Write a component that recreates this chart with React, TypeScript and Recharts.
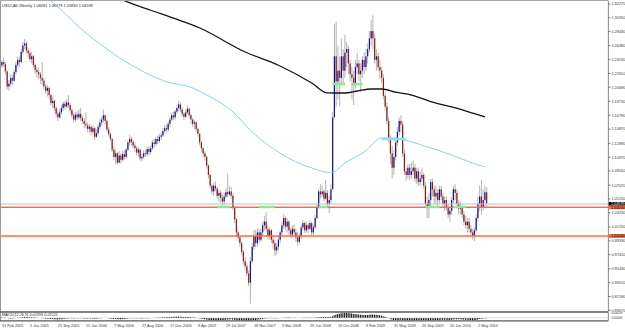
import React from "react";
import { ComposedChart, Bar, Line, XAxis, YAxis, ReferenceLine } from "recharts";

// ---------- data ----------
const firstOpen = 1.237;
const closes = [
  1.242, 1.239, 1.229, 1.208, 1.212, 1.22, 1.216, 1.228, 1.238, 1.245,
  1.242, 1.256, 1.265, 1.268, 1.258, 1.254, 1.246, 1.25, 1.238, 1.231,
  1.228, 1.225, 1.22, 1.216, 1.208, 1.202, 1.206, 1.196, 1.185, 1.188,
  1.178, 1.17, 1.165, 1.172, 1.178, 1.184, 1.18, 1.186, 1.182, 1.175,
  1.168, 1.162, 1.169, 1.165, 1.17, 1.164, 1.16, 1.156, 1.154, 1.149,
  1.152, 1.145, 1.15, 1.138, 1.143, 1.152, 1.158, 1.162, 1.168, 1.16,
  1.148, 1.142, 1.135, 1.12, 1.11, 1.115, 1.102, 1.112, 1.106, 1.114,
  1.11, 1.12, 1.13, 1.135, 1.131, 1.126, 1.122, 1.116, 1.12, 1.108,
  1.11, 1.115, 1.114, 1.121, 1.117, 1.122, 1.13, 1.128, 1.135, 1.132,
  1.138, 1.14, 1.146, 1.15, 1.148, 1.156, 1.162, 1.168, 1.165, 1.173,
  1.178, 1.183, 1.176, 1.17, 1.166, 1.172, 1.177, 1.168, 1.162, 1.156,
  1.158, 1.149, 1.142, 1.13, 1.122, 1.115, 1.11, 1.098, 1.085, 1.07,
  1.062, 1.07, 1.066, 1.056, 1.06, 1.053, 1.048, 1.055, 1.061, 1.058,
  1.062, 1.056, 1.04, 1.023, 1.005, 0.998, 0.99, 0.978, 0.965, 0.958,
  0.948, 0.935, 0.965, 0.985, 1.0, 0.99, 1.005, 0.995, 1.005, 1.015,
  1.02, 1.01, 1.0, 1.008, 0.995, 0.99, 0.98, 0.985, 0.995, 1.005,
  1.015, 1.025, 1.013, 1.02, 1.008, 1.002, 1.01, 1.005, 0.998, 0.992,
  1.0, 1.012, 1.018, 1.008, 1.015, 1.01, 1.018, 1.005, 1.012, 1.025,
  1.04, 1.062, 1.058, 1.062, 1.052, 1.06, 1.045, 1.05, 1.065, 1.165,
  1.25, 1.215, 1.23, 1.22, 1.25, 1.23, 1.255, 1.26, 1.24, 1.225,
  1.22, 1.21, 1.235, 1.24, 1.225, 1.23, 1.245, 1.235, 1.25, 1.26,
  1.275, 1.285, 1.275, 1.245, 1.25, 1.235, 1.23, 1.22, 1.195, 1.18,
  1.16, 1.135, 1.115, 1.095, 1.11, 1.13, 1.145, 1.16, 1.155, 1.115,
  1.09, 1.085, 1.095, 1.085, 1.09, 1.095, 1.08, 1.09, 1.075, 1.08,
  1.085, 1.07, 1.045, 1.04, 1.05, 1.075, 1.065, 1.055, 1.06, 1.05,
  1.065, 1.055, 1.045, 1.05, 1.04, 1.03, 1.035, 1.05, 1.065, 1.06,
  1.045, 1.038, 1.04, 1.03, 1.02, 1.015, 1.02, 1.01, 1.005, 1.0,
  1.008, 1.025, 1.045, 1.055, 1.04, 1.05, 1.06081, 1.04599,
];
const highs = [
  1.245, 1.248, 1.242, 1.23, 1.217, 1.225, 1.224, 1.231, 1.242, 1.249,
  1.25, 1.26, 1.27, 1.274, 1.271, 1.262, 1.258, 1.256, 1.252, 1.24,
  1.235, 1.234, 1.228, 1.242, 1.22, 1.212, 1.21, 1.208, 1.198, 1.194,
  1.19, 1.18, 1.174, 1.176, 1.182, 1.187, 1.188, 1.191, 1.196, 1.185,
  1.178, 1.172, 1.172, 1.174, 1.176, 1.178, 1.168, 1.164, 1.172, 1.158,
  1.156, 1.154, 1.154, 1.152, 1.148, 1.155, 1.163, 1.166, 1.176, 1.169,
  1.162, 1.151, 1.144, 1.136, 1.125, 1.12, 1.117, 1.118, 1.115, 1.118,
  1.12, 1.123, 1.133, 1.141, 1.138, 1.134, 1.13, 1.125, 1.124, 1.122,
  1.114, 1.119, 1.12, 1.124, 1.125, 1.126, 1.134, 1.135, 1.138, 1.14,
  1.142, 1.144, 1.15, 1.154, 1.155, 1.159, 1.166, 1.171, 1.173, 1.176,
  1.182, 1.188, 1.186, 1.179, 1.172, 1.176, 1.182, 1.179, 1.17, 1.164,
  1.162, 1.16, 1.151, 1.144, 1.132, 1.124, 1.118, 1.112, 1.1, 1.087,
  1.072, 1.074, 1.076, 1.068, 1.064, 1.064, 1.058, 1.06, 1.066, 1.087,
  1.07, 1.068, 1.059, 1.042, 1.025, 1.008, 1.001, 0.992, 0.98, 0.97,
  0.962, 0.952, 0.97, 0.99, 1.009, 1.008, 1.01, 1.01, 1.01, 1.02,
  1.028, 1.033, 1.015, 1.012, 1.01, 1.0, 0.995, 0.99, 1.0, 1.008,
  1.02, 1.03, 1.028, 1.025, 1.022, 1.012, 1.015, 1.016, 1.01, 1.005,
  1.004, 1.016, 1.022, 1.02, 1.02, 1.018, 1.022, 1.02, 1.016, 1.029,
  1.045, 1.065, 1.072, 1.07, 1.065, 1.078, 1.064, 1.056, 1.072, 1.172,
  1.295, 1.298, 1.265, 1.25, 1.275, 1.26, 1.28, 1.27, 1.265, 1.245,
  1.235, 1.23, 1.245, 1.255, 1.245, 1.24, 1.25, 1.255, 1.26, 1.268,
  1.285, 1.3, 1.307, 1.28, 1.26, 1.255, 1.245, 1.235, 1.225, 1.2,
  1.185, 1.165, 1.14, 1.125, 1.12, 1.135, 1.152, 1.165, 1.168, 1.16,
  1.12, 1.095, 1.1, 1.1, 1.102, 1.105, 1.1, 1.095, 1.095, 1.09,
  1.095, 1.088, 1.075, 1.055, 1.06, 1.08, 1.08, 1.07, 1.07, 1.065,
  1.07, 1.07, 1.06, 1.055, 1.055, 1.045, 1.04, 1.055, 1.07, 1.072,
  1.065, 1.05, 1.048, 1.042, 1.035, 1.028, 1.025, 1.025, 1.015, 1.01,
  1.012, 1.03, 1.055, 1.07, 1.078, 1.065, 1.07, 1.06779,
];
const lows = [
  1.234, 1.235, 1.225, 1.204, 1.202, 1.208, 1.21, 1.214, 1.225, 1.234,
  1.235, 1.24, 1.253, 1.26, 1.254, 1.248, 1.242, 1.24, 1.234, 1.226,
  1.22, 1.218, 1.212, 1.21, 1.204, 1.198, 1.194, 1.191, 1.182, 1.178,
  1.174, 1.166, 1.16, 1.163, 1.169, 1.174, 1.176, 1.178, 1.178, 1.171,
  1.164, 1.158, 1.159, 1.161, 1.162, 1.16, 1.156, 1.15, 1.15, 1.144,
  1.144, 1.14, 1.142, 1.134, 1.136, 1.14, 1.148, 1.154, 1.158, 1.155,
  1.145, 1.138, 1.132, 1.117, 1.106, 1.1, 1.099, 1.101, 1.101, 1.104,
  1.106, 1.107, 1.118, 1.126, 1.125, 1.122, 1.117, 1.112, 1.11, 1.105,
  1.104, 1.107, 1.11, 1.111, 1.112, 1.114, 1.12, 1.123, 1.125, 1.128,
  1.13, 1.134, 1.138, 1.143, 1.144, 1.145, 1.152, 1.16, 1.161, 1.162,
  1.17, 1.174, 1.172, 1.166, 1.161, 1.164, 1.17, 1.164, 1.156, 1.152,
  1.148, 1.145, 1.138, 1.126, 1.117, 1.11, 1.105, 1.094, 1.08, 1.066,
  1.058, 1.056, 1.062, 1.052, 1.048, 1.046, 1.042, 1.043, 1.052, 1.054,
  1.056, 1.052, 1.036, 1.018, 1.0, 0.993, 0.985, 0.973, 0.96, 0.952,
  0.944, 0.93, 0.906, 0.962, 0.981, 0.985, 0.985, 0.99, 0.992, 1.0,
  1.008, 1.006, 0.995, 0.995, 0.99, 0.982, 0.972, 0.974, 0.98, 0.99,
  1.0, 1.01, 1.008, 1.005, 1.002, 0.998, 0.998, 1.0, 0.992, 0.986,
  0.989, 0.996, 1.008, 1.004, 1.005, 1.004, 1.008, 1.001, 1.0, 1.01,
  1.023, 1.038, 1.052, 1.054, 1.048, 1.05, 1.04, 1.032, 1.045, 1.065,
  1.165, 1.18, 1.19, 1.18, 1.21, 1.21, 1.22, 1.235, 1.225, 1.215,
  1.19, 1.182, 1.205, 1.225, 1.215, 1.2, 1.22, 1.225, 1.23, 1.24,
  1.255, 1.265, 1.26, 1.24, 1.23, 1.23, 1.218, 1.213, 1.19, 1.175,
  1.155, 1.13, 1.1, 1.08, 1.085, 1.105, 1.125, 1.14, 1.145, 1.11,
  1.085, 1.077, 1.08, 1.078, 1.08, 1.085, 1.075, 1.072, 1.07, 1.07,
  1.075, 1.065, 1.04, 1.025, 1.025, 1.04, 1.055, 1.045, 1.045, 1.042,
  1.045, 1.05, 1.04, 1.035, 1.035, 1.025, 1.02, 1.03, 1.045, 1.05,
  1.04, 1.03, 1.03, 1.025, 1.015, 1.01, 1.005, 1.005, 1.0, 0.995,
  0.993, 1.005, 1.02, 1.035, 1.03, 1.035, 1.04, 1.0383,
];
const macdMain = [
  0.004, 0.003, 0.001, -0.003, -0.006, -0.007, -0.007, -0.005, -0.002, 0.001,
  0.003, 0.006, 0.009, 0.012, 0.012, 0.011, 0.009, 0.008, 0.006, 0.004,
  0.002, 0.0, -0.002, -0.004, -0.006, -0.009, -0.01, -0.012, -0.014, -0.015,
  -0.017, -0.019, -0.02, -0.019, -0.017, -0.014, -0.012, -0.009, -0.007, -0.006,
  -0.006, -0.007, -0.006, -0.006, -0.005, -0.005, -0.006, -0.007, -0.007, -0.008,
  -0.008, -0.009, -0.009, -0.01, -0.01, -0.008, -0.006, -0.004, -0.002, -0.002,
  -0.003, -0.005, -0.007, -0.01, -0.013, -0.015, -0.017, -0.017, -0.017, -0.016,
  -0.015, -0.012, -0.009, -0.006, -0.005, -0.004, -0.004, -0.005, -0.005, -0.006,
  -0.007, -0.006, -0.006, -0.005, -0.004, -0.003, -0.001, 0.0, 0.002, 0.003,
  0.004, 0.005, 0.007, 0.008, 0.009, 0.01, 0.012, 0.013, 0.014, 0.015,
  0.016, 0.017, 0.016, 0.015, 0.013, 0.012, 0.012, 0.01, 0.008, 0.006,
  0.004, 0.001, -0.002, -0.006, -0.01, -0.014, -0.017, -0.021, -0.025, -0.029,
  -0.031, -0.031, -0.031, -0.031, -0.03, -0.029, -0.028, -0.026, -0.024, -0.022,
  -0.02, -0.019, -0.02, -0.023, -0.027, -0.03, -0.033, -0.036, -0.039, -0.041,
  -0.043, -0.045, -0.043, -0.039, -0.034, -0.03, -0.025, -0.021, -0.017, -0.013,
  -0.009, -0.007, -0.006, -0.004, -0.004, -0.004, -0.005, -0.005, -0.004, -0.003,
  -0.001, 0.002, 0.003, 0.004, 0.004, 0.003, 0.003, 0.002, 0.001, -0.001,
  -0.001, 0.0, 0.001, 0.001, 0.002, 0.002, 0.002, 0.002, 0.002, 0.003,
  0.005, 0.008, 0.01, 0.012, 0.012, 0.013, 0.012, 0.011, 0.012, 0.02,
  0.034, 0.042, 0.05, 0.054, 0.059, 0.061, 0.063, 0.064, 0.063, 0.06,
  0.056, 0.052, 0.05, 0.048, 0.045, 0.042, 0.041, 0.039, 0.038, 0.039,
  0.041, 0.043, 0.044, 0.042, 0.04, 0.037, 0.033, 0.029, 0.022, 0.015,
  0.007, -0.002, -0.011, -0.02, -0.026, -0.028, -0.028, -0.026, -0.024, -0.026,
  -0.029, -0.032, -0.033, -0.034, -0.034, -0.033, -0.033, -0.032, -0.032, -0.031,
  -0.03, -0.03, -0.032, -0.034, -0.035, -0.033, -0.031, -0.03, -0.029, -0.028,
  -0.026, -0.025, -0.025, -0.025, -0.025, -0.026, -0.026, -0.024, -0.021, -0.019,
  -0.019, -0.019, -0.019, -0.02, -0.022, -0.024, -0.025, -0.027, -0.028, -0.03,
  -0.03, -0.027, -0.022, -0.016, -0.012, -0.009, -0.006, -0.005,
];
// moving averages read at a few bars: [bar index, value]
const maSlowPoints: [number, number][] = [
  [64, 1.334], [69, 1.3283], [85, 1.314], [98, 1.303], [113, 1.2893], [139, 1.2559],
  [158, 1.2375], [177, 1.2128], [186, 1.199], [196, 1.1989], [203, 1.2017], [211, 1.2045],
  [217, 1.2045], [225, 1.2], [234, 1.1961], [246, 1.1862], [257, 1.1795], [269, 1.1709], [276, 1.1656],
];
const maFastPoints: [number, number][] = [
  [24, 1.333], [27, 1.3283], [46, 1.2865], [71, 1.242], [94, 1.2145], [109, 1.2059],
  [117, 1.1961], [132, 1.1725], [142, 1.147], [158, 1.1165], [177, 1.0946], [188, 1.088],
  [196, 1.1016], [207, 1.117], [217, 1.1363], [223, 1.1363], [230, 1.1336], [243, 1.124],
  [257, 1.1127], [269, 1.1014], [276, 1.096],
];
const priceTicks = [
  1.3227, 1.3035, 1.2843, 1.2648, 1.2453, 1.2261, 1.2069, 1.1873, 1.1679, 1.1487,
  1.1289, 1.1097, 1.0905, 1.0707, 1.0515, 1.0323, 1.0125, 0.9933, 0.9741, 0.9543,
  0.9351, 0.9159, 0.8967,
];
const dateTickIndex = [0, 16, 32, 48, 64, 80, 96, 112, 128, 144, 160, 176, 192, 208, 224, 240, 256, 272];
const dateTickLabels = [
  "13 Feb 2005", "5 Jun 2005", "25 Sep 2005", "15 Jan 2006", "7 May 2006", "27 Aug 2006",
  "17 Dec 2006", "8 Apr 2007", "29 Jul 2007", "18 Nov 2007", "9 Mar 2008", "29 Jun 2008",
  "19 Oct 2008", "8 Feb 2009", "31 May 2009", "20 Sep 2009", "10 Jan 2010", "2 May 2010",
];
const levelLines = [
  { value: 1.0445, color: "#b9c0d2", tagBg: "#000000", tagFg: "#ffffff", tag: "1.04599", w: 1 },
  { value: 1.04, color: "#ff6a3c", tagBg: "#ff6a3c", tagFg: "#000000", tag: "1.04000", w: 1.5 },
  { value: 1.0, color: "#ff6a3c", tagBg: "#ff6a3c", tagFg: "#000000", tag: "1.00000", w: 1.5 },
];
const marks = [
  { from: 123, to: 130, value: 1.0404, color: "#8fe88f" },
  { from: 147, to: 156, value: 1.0404, color: "#8fe88f" },
  { from: 181, to: 186, value: 1.0404, color: "#8fe88f" },
  { from: 189, to: 196, value: 1.2114, color: "#8fe88f" },
  { from: 200, to: 206, value: 1.2114, color: "#8fe88f" },
  { from: 242, to: 250, value: 1.0404, color: "#8fe88f" },
  { from: 258, to: 265, value: 1.0404, color: "#8fe88f" },
  { from: 217, to: 231, value: 1.1349, color: "#8fdcf5" },
];

// ---------- layout ----------
const FONT = "'Liberation Sans', Arial, sans-serif";
const SLOTS = 347;
const LEFT = 1.125;
const AXIS_W = 16.625;
const W = 625;

const rows: any[] = Array.from({ length: SLOTS }, (_, i) => {
  const r: any = { i };
  if (i < closes.length) {
    r.open = i === 0 ? firstOpen : closes[i - 1];
    r.close = closes[i];
    r.high = highs[i];
    r.low = lows[i];
    r.macd = macdMain[i];
  }
  return r;
});
maSlowPoints.forEach(([i, v]) => (rows[i].maSlow = v));
maFastPoints.forEach(([i, v]) => (rows[i].maFast = v));

const Candle = (p: any) => {
  const { x, y, width, height, payload } = p;
  if (!payload || payload.high == null) return null;
  const { open, close, high, low } = payload;
  const top = Math.min(y, y + height);
  const h = Math.abs(height);
  const span = high - low || 1;
  const toY = (v: number) => top + ((high - v) / span) * h;
  const cx = x + width / 2;
  const yo = toY(open);
  const yc = toY(close);
  const bt = Math.min(yo, yc);
  const bh = Math.max(Math.abs(yc - yo), 0.8);
  const up = close >= open;
  return (
    <g>
      <line x1={cx} x2={cx} y1={top} y2={top + h} stroke="#b4b4b4" strokeWidth={1} />
      <rect x={cx - 0.6} y={bt} width={1.2} height={bh} fill={up ? "#10109a" : "#9a1414"} />
    </g>
  );
};

const Tag = (props: any) => {
  const { viewBox, tag, bg, fg } = props;
  if (!viewBox) return null;
  const left = viewBox.x + viewBox.width;
  return (
    <g>
      <rect x={left} y={viewBox.y - 2} width={W - left} height={4} fill={bg} />
      <text x={left + 2.5} y={viewBox.y + 1.4} fontSize={3.8} fontFamily={FONT} fill={fg}>
        {tag}
      </text>
    </g>
  );
};

const DateTick = (p: any) => {
  const idx = dateTickIndex.indexOf(p.payload.value);
  if (idx < 0) return null;
  return (
    <text x={p.x} y={14.6} fontSize={3.8} fontFamily={FONT} fill="#3a3a3a" textAnchor="start">
      {dateTickLabels[idx]}
    </text>
  );
};

export default function App() {
  return (
    <div style={{ position: "absolute", left: 0, top: 0, width: W, height: 330, background: "#ffffff", overflow: "hidden" }}>
      <div style={{ position: "absolute", left: 0, top: 0 }}>
        <ComposedChart
          width={W}
          height={312}
          data={rows}
          margin={{ top: 1, right: 0, bottom: 0.5, left: LEFT }}
          barCategoryGap={0}
          barGap={0}
        >
          <XAxis dataKey="i" type="category" hide />
          <YAxis
            orientation="right"
            type="number"
            width={AXIS_W}
            domain={[0.89503, 1.32687]}
            allowDataOverflow
            ticks={priceTicks}
            interval={0}
            tickFormatter={(v: number) => v.toFixed(5)}
            tick={{ fontSize: 3.9, fill: "#3a3a3a", fontFamily: FONT }}
            tickSize={2}
            tickMargin={1}
            axisLine={{ stroke: "#8a8a8a" }}
            tickLine={{ stroke: "#6a6a6a" }}
          />
          <Bar
            dataKey={(d: any) => (d.high == null ? null : [d.low, d.high])}
            barSize={1.75}
            shape={(p: any) => <Candle {...p} />}
            isAnimationActive={false}
          />
          <Line dataKey="maFast" type="monotone" stroke="#86d2f2" strokeWidth={1} dot={false} connectNulls isAnimationActive={false} />
          <Line dataKey="maSlow" type="monotone" stroke="#141414" strokeWidth={1.3} dot={false} connectNulls isAnimationActive={false} />
          {levelLines.map((l) => (
            <ReferenceLine
              key={l.tag}
              y={l.value}
              stroke={l.color}
              strokeWidth={l.w}
              label={(p: any) => <Tag {...p} tag={l.tag} bg={l.tagBg} fg={l.tagFg} />}
            />
          ))}
          {marks.map((m, k) => (
            <ReferenceLine
              key={"m" + k}
              segment={[{ x: m.from, y: m.value }, { x: m.to, y: m.value }]}
              stroke={m.color}
              strokeWidth={2.5}
            />
          ))}
        </ComposedChart>
      </div>
      <div style={{ position: "absolute", left: 0, top: 312 }}>
        <ComposedChart
          width={W}
          height={18}
          data={rows}
          margin={{ top: 0.5, right: 0, bottom: 0, left: LEFT }}
          barCategoryGap={0}
          barGap={0}
        >
          <XAxis
            dataKey="i"
            type="category"
            height={9.5}
            ticks={dateTickIndex}
            interval={0}
            tick={(p: any) => <DateTick {...p} />}
            axisLine={false}
            tickLine={false}
          />
          <YAxis
            orientation="right"
            type="number"
            width={AXIS_W}
            domain={[-0.034, 0.07]}
            allowDataOverflow
            ticks={[0.0628, 0.0]}
            interval={0}
            tickFormatter={(v: number) => v.toFixed(4)}
            tick={{ fontSize: 3.6, fill: "#3a3a3a", fontFamily: FONT }}
            tickSize={2}
            tickMargin={1}
            axisLine={{ stroke: "#8a8a8a" }}
            tickLine={false}
          />
          <ReferenceLine y={0} stroke="#c8c8c8" strokeWidth={0.5} />
          <Bar dataKey="macd" fill="#000000" barSize={1} isAnimationActive={false} />
        </ComposedChart>
      </div>
      <svg width={W} height={330} style={{ position: "absolute", left: 0, top: 0, pointerEvents: "none" }}>
        <line x1={0.5} x2={0.5} y1={0.5} y2={321} stroke="#9a9a9a" strokeWidth={1} />
        <line x1={0} x2={608.4} y1={0.5} y2={0.5} stroke="#a8a8a8" strokeWidth={1} />
        <line x1={0} x2={608.4} y1={312} y2={312} stroke="#5a5a5a" strokeWidth={1.4} />
        <line x1={0} x2={608.4} y1={320.8} y2={320.8} stroke="#5a5a5a" strokeWidth={1.2} />
        <text x={2} y={6.6} fontSize={3.9} fontFamily={FONT} fill="#2a2a2a">
          USDCAD,Weekly  1.06081 1.06779 1.03830 1.04599
        </text>
        <text x={2} y={316} fontSize={3.8} fontFamily={FONT} fill="#2a2a2a">
          MACD(12,26,9) 0.01393 0.01521
        </text>
      </svg>
    </div>
  );
}
